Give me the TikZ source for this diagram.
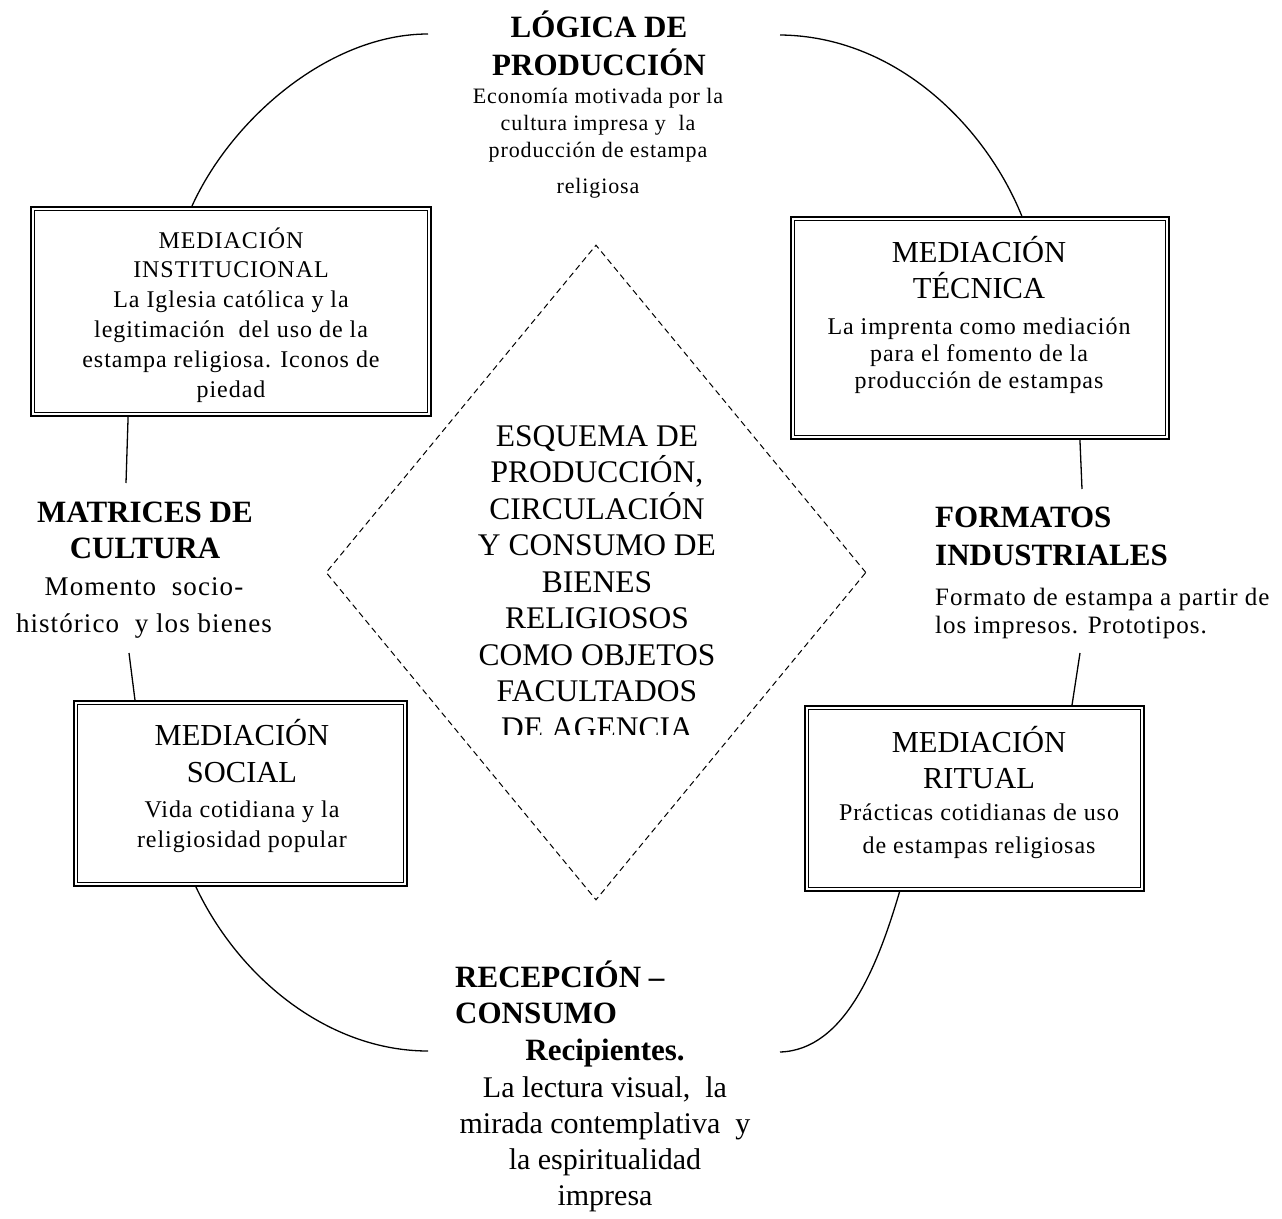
\documentclass[tikz,border=0pt]{standalone}
\usepackage{fontspec}
\setmainfont{Liberation Serif}
\newfontfamily\lsf{Liberation Serif}[LetterSpace=4.0]
\usetikzlibrary{calc,shapes.geometric}
\tikzset{
  dframe/.style={draw, line width=2pt, inner sep=0pt, rectangle,
    path picture={\draw[line width=1pt]
      ([shift={(3.8pt,3.8pt)}]path picture bounding box.south west) rectangle
      ([shift={(-3.8pt,-3.8pt)}]path picture bounding box.north east);}},
  txt/.style={inner sep=0pt, align=center, anchor=base},
  txtl/.style={inner sep=0pt, align=left, anchor=base west},
  linkline/.style={line width=1.3pt},
  dashline/.style={line width=1pt, dash pattern=on 6pt off 4pt},
}
\begin{document}
\begin{tikzpicture}[x=1pt,y=-1pt]
\path[fill=white] (0,0) rectangle (1282,1218);
\useasboundingbox (0,0) rectangle (1282,1218);

% frames
\node[dframe, minimum width=400pt, minimum height=209pt] (inst) at (231,311.5) {};
\node[dframe, minimum width=378pt, minimum height=222pt] (tec) at (980,328) {};
\node[dframe, minimum width=333pt, minimum height=185pt] (soc) at (240.5,793.5) {};
\node[dframe, minimum width=339pt, minimum height=185pt] (rit) at (974.5,798.5) {};

% diamond
\node[draw, dashline, diamond, minimum width=540pt, minimum height=655pt, inner sep=0pt] (dia) at (596,572.5) {};

% free ends
\coordinate (tl) at (428,34);
\coordinate (tr) at (780,35);
\coordinate (bl) at (428,1051);
\coordinate (br) at (780,1052);
\coordinate (ml1) at (126,483);
\coordinate (ml2) at (129,653);
\coordinate (mr1) at (1082,489);
\coordinate (mr2) at (1080,653);

% arcs
\draw[linkline] (tl) .. controls (330,34) and (232,118) .. ($(inst.north west)!0.403!(inst.north east)$);
\draw[linkline] (tr) .. controls (895,36) and (985,125) .. ($(tec.north west)!0.61!(tec.north east)$);
\draw[linkline] ($(soc.south west)!0.367!(soc.south east)$) .. controls (240,980) and (330,1051) .. (bl);
\draw[linkline] ($(rit.south west)!0.28!(rit.south east)$) .. controls (878,965) and (845,1050) .. (br);
\draw[linkline] ($(inst.south west)!0.244!(inst.south east)$) -- (ml1);
\draw[linkline] (ml2) -- ($(soc.north west)!0.185!(soc.north east)$);
\draw[linkline] ($(tec.south west)!0.763!(tec.south east)$) -- (mr1);
\draw[linkline] (mr2) -- ($(rit.north west)!0.786!(rit.north east)$);

% top (anchors at the baseline of the last line)
\node[txt, font=\fontsize{31}{38}\selectfont\bfseries] (logt) at (599,75) {LÓGICA DE\\PRODUCCIÓN};
\node[txt, font=\lsf\fontsize{22}{27}\selectfont] (logb) at (598,193) {Economía motivada por la\\cultura impresa y~ la\\producción de estampa\\[9pt]religiosa};

% box texts
\node[txt, font=\lsf\fontsize{24}{29.8}\selectfont] (instt) at (231,397) {MEDIACIÓN\\INSTITUCIONAL\\La Iglesia católica y la\\legitimación~ del uso de la\\estampa religiosa. Iconos de\\piedad};

\node[txt, font=\fontsize{30.5}{36}\selectfont] (tect) at (979,298) {MEDIACIÓN\\TÉCNICA};
\node[txt, font=\lsf\fontsize{24}{27}\selectfont] (tecb) at (979,388) {La imprenta como mediación\\para el fomento de la\\producción de estampas};

\node[txt, font=\fontsize{30.5}{37}\selectfont] (soct) at (242,782) {MEDIACIÓN\\SOCIAL};
\node[txt, font=\lsf\fontsize{24}{30}\selectfont] (socb) at (242,847) {Vida cotidiana y la\\religiosidad popular};

\node[txt, font=\fontsize{30.5}{36}\selectfont] (ritt) at (979,788) {MEDIACIÓN\\RITUAL};
\node[txt, font=\lsf\fontsize{24}{33}\selectfont] (ritb) at (979,853) {Prácticas cotidianas de uso\\de estampas religiosas};

% left
\node[txt, font=\fontsize{31}{36}\selectfont\bfseries] (matt) at (145,558) {MATRICES DE\\CULTURA};
\node[txt, font=\lsf\fontsize{27}{37}\selectfont] (matb) at (144,632) {Momento~ socio-\\histórico~ y los bienes};

% right
\node[txtl, font=\fontsize{31}{38}\selectfont\bfseries] (fort) at (935,565) {FORMATOS\\INDUSTRIALES};
\node[txtl, font=\lsf\fontsize{25}{28}\selectfont] (forb) at (935,633) {Formato de estampa a partir de\\los impresos. Prototipos.};

% center (clipped)
\begin{scope}
\clip (330,400) rectangle (870,734);
\node[txt, font=\fontsize{31.5}{36.5}\selectfont] (esq) at (597,738) {ESQUEMA DE\\PRODUCCIÓN,\\CIRCULACIÓN\\Y CONSUMO DE\\BIENES\\RELIGIOSOS\\COMO OBJETOS\\FACULTADOS\\DE AGENCIA};
\end{scope}

% bottom
\node[txtl, font=\fontsize{31}{36}\selectfont\bfseries] (rect) at (455,1023) {RECEPCIÓN –\\CONSUMO};
\node[txt, font=\fontsize{31}{36}\selectfont\bfseries] (recr) at (605,1060) {Recipientes.};
\node[txt, font=\fontsize{30}{36}\selectfont] (recb) at (605,1205) {La lectura visual,~ la\\mirada contemplativa~ y\\la espiritualidad\\impresa};
\end{tikzpicture}
\end{document}
